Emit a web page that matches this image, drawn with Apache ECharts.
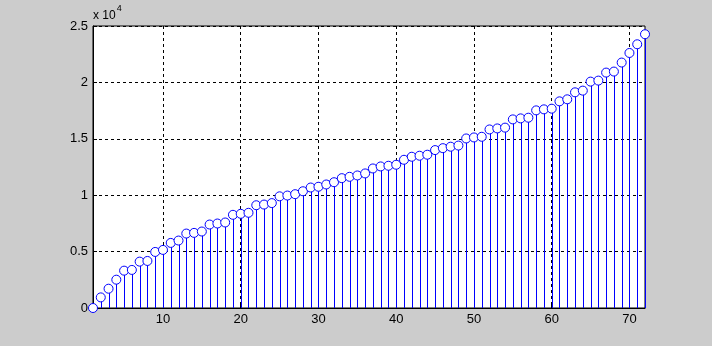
<!DOCTYPE html>
<html>
<head>
<meta charset="utf-8">
<script src="https://cdn.jsdelivr.net/npm/echarts@6/dist/echarts.min.js"></script>
<style>html,body{margin:0;padding:0;background:#cccccc;}#c{width:712px;height:346px;}</style>
</head>
<body>
<div id="c"></div>
<script>
const xValues = Array.from({length: 72}, (_, i) => i + 1);
const yValues = [
  0, 940, 1710, 2510, 3310, 3375, 4110, 4170, 4970, 5150,
  5770, 5980, 6600, 6660, 6780, 7400, 7490, 7580, 8260, 8350,
  8440, 9110, 9170, 9300, 9900, 9970, 10090, 10350, 10680, 10750,
  10950, 11150, 11510, 11630, 11750, 11930, 12370, 12550, 12610, 12700,
  13140, 13410, 13500, 13590, 14000, 14170, 14300, 14400, 15030, 15120,
  15180, 15830, 15920, 15990, 16720, 16810, 16870, 17520, 17610, 17670,
  18320, 18500, 19120, 19270, 20070, 20160, 20870, 20960, 21760, 22610,
  23380, 24270
];
const xTicks = [10, 20, 30, 40, 50, 60, 70];
const yTicks = [0, 5000, 10000, 15000, 20000, 25000];
const yTickLabels = ['0', '0.5', '1', '1.5', '2', '2.5'];

const data = xValues.map((x, i) => [x, yValues[i]]);
const font = '"Liberation Sans", Arial, Helvetica, sans-serif';
const chart = echarts.init(document.getElementById('c'), null, {renderer: 'canvas'});
chart.setOption({
  backgroundColor: '#cccccc',
  animation: false,
  grid: {left: 93, right: 67, top: 26, bottom: 38, show: true, backgroundColor: '#ffffff', borderColor: '#000', borderWidth: 1},
  xAxis: {
    type: 'value', min: 1, max: 72,
    axisLine: {show: true, lineStyle: {color: '#000', width: 1}},
    axisTick: {show: true, inside: true, length: 4, lineStyle: {color: '#000'}, customValues: xTicks},
    axisLabel: {color: '#000', fontFamily: font, fontSize: 13, margin: 5, customValues: xTicks},
    splitLine: {show: true, lineStyle: {color: '#000', type: [3, 3], width: 1}}
  },
  yAxis: {
    type: 'value', min: 0, max: 25000, interval: 5000,
    axisLine: {show: true, lineStyle: {color: '#000', width: 1}},
    axisTick: {show: true, inside: true, length: 4, lineStyle: {color: '#000'}},
    axisLabel: {color: '#000', fontFamily: font, fontSize: 13, margin: 5,
      formatter: v => yTickLabels[yTicks.indexOf(v)]},
    splitLine: {show: true, lineStyle: {color: '#000', type: [3, 3], width: 1}}
  },
  graphic: [{
    type: 'text', left: 93, top: 4,
    style: {
      text: '{a|x 10}{b|4}',
      rich: {
        a: {fontFamily: font, fontSize: 12, fill: '#000', padding: [8, 0, 0, 0]},
        b: {fontFamily: font, fontSize: 9, fill: '#000', padding: [0, 0, 6, 1]}
      }
    }
  }],
  series: [{
    type: 'custom',
    data: data,
    clip: false,
    z: 3,
    renderItem: function (params, api) {
      const x = api.value(0), y = api.value(1);
      const p0 = api.coord([x, 0]);
      const p1 = api.coord([x, y]);
      const px = Math.round(p0[0]) + 0.5;
      return {type: 'line', shape: {x1: px, y1: p0[1], x2: px, y2: p1[1]},
        style: {stroke: '#0000ff', lineWidth: 1}};
    }
  }, {
    type: 'scatter',
    data: data,
    clip: false,
    z: 4,
    symbol: 'circle',
    symbolSize: 9,
    itemStyle: {color: '#ffffff', borderColor: '#0000ff', borderWidth: 1, opacity: 1}
  }]
});
</script>
</body>
</html>
